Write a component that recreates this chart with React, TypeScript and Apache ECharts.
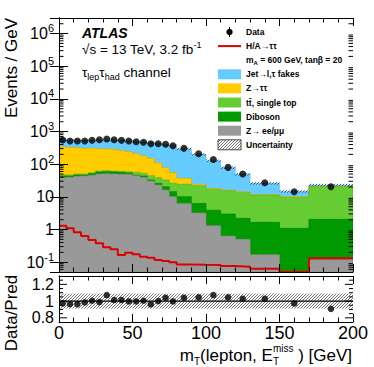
import React, { useEffect, useRef } from 'react';
import * as echarts from 'echarts';

// ---- data ----
const binEdges = [0, 5, 10, 15, 20, 25, 30, 35, 40, 45, 50, 55, 60, 65, 70, 75, 80, 90, 100, 110, 120, 130, 150, 170, 200];
const dataValues = [550, 513, 513, 513, 538, 562, 590, 562, 538, 513, 488, 468, 424, 424, 406, 368, 306, 209, 139, 80, 50, 27, 14.4, 20.4];
const zllValues = [38.6, 39.6, 42.5, 43.5, 45.6, 50, 51.2, 50, 48.9, 48.9, 44.5, 39.6, 30.5, 23.0, 16.2, 10.1, 6.3, 3.2, 1.31, 0.63, 0.5, 0.17, 0.02, 0.12];
const dibosonValues = [4.9, 3.9, 4.1, 3.1, 5.6, 7.6, 7.8, 7.6, 7.4, 4.8, 2.1, 3.9, 2.3, 2.9, 4.3, 4.3, 3.8, 3.1, 2.6, 2.35, 1.7, 1.49, 1.07, 1.93];
const ttbarValues = [3.1, 3.1, 3.4, 3.4, 3.8, 4.2, 4.3, 4.2, 4.1, 5.3, 9.7, 9.0, 11.7, 12.7, 12.3, 11.5, 14.1, 15.7, 13.1, 12.5, 11.5, 9.7, 8.6, 18.5];
const ztautauValues = [297, 281, 270, 256, 251, 237, 229, 223, 205, 183, 154, 130, 107, 72, 45, 29, 12.7, 2.2, 1.2, 0.7, 0.7, 0.5, 0.44, 0.5];
const fakesValues = [221, 212, 210, 219, 229, 251, 258, 265, 265, 273, 280, 284, 292, 313, 317, 314, 257, 176, 109, 62, 35, 14.1, 4.5, 2.0];
const signalValues = [1.31, 1.09, 0.82, 0.63, 0.48, 0.377, 0.284, 0.247, 0.166, 0.195, 0.174, 0.147, 0.137, 0.116, 0.109, 0.099, 0.085, 0.083, 0.082, 0.076, 0.073, 0.063, 0.051, 0.131];
const ratioValues = [0.972, 0.964, 0.964, 0.984, 1.004, 0.988, 1.072, 1.012, 1.012, 0.996, 0.996, 1.004, 0.96, 1.0, 1.04, 0.996, 1.04, 1.045, 1.072, 1.045, 1.028, 1.028, 0.972, 0.907];
const uncertaintyValues = [0.09, 0.09, 0.09, 0.09, 0.09, 0.09, 0.09, 0.09, 0.09, 0.09, 0.09, 0.09, 0.09, 0.09, 0.09, 0.09, 0.09, 0.09, 0.09, 0.09, 0.09, 0.09, 0.09, 0.09];
const ratioTickValues = [0.8, 1, 1.2];
const ratioTickLabels = ['0.8', '1', '1.2'];
const ratioMinorTicks = [0.85, 0.9, 0.95, 1.05, 1.1, 1.15, 1.25];
const logMinorMultipliers = [2, 3, 4, 5, 6, 7, 8, 9];
const logDecades = [0.01, 0.1, 1, 10, 100, 1000, 10000, 100000, 1000000];

const componentNames = ['Z→ ee/μμ', 'Diboson', 'tt̄, single top', 'Z→ττ', 'Jet→l,τ fakes'];
const componentValues = [zllValues, dibosonValues, ttbarValues, ztautauValues, fakesValues];

// ---- styles ----
const FONT = 'Liberation Sans';
const componentColors = ['#999999', '#009900', '#66CC33', '#FFCC00', '#66CCFF'];
const componentStroke = ['#8a8a8a', '#007f00', '#58b02a', '#d8aa00', '#5ab8e8'];
const SIGNAL_COLOR = '#DD0000';
const Y_MIN = 0.05;
const Y_MAX = 3e6;
const R_MIN = 0.75;
const R_MAX = 1.3;

function hatch(x0: number, y0: number, x1: number, y1: number, step: number) {
  const ax = Math.min(x0, x1), bx = Math.max(x0, x1);
  const ay = Math.min(y0, y1), by = Math.max(y0, y1);
  const segs: number[][] = [];
  const start = Math.ceil((ax + ay) / step) * step;
  for (let c = start; c <= bx + by; c += step) {
    const xa = Math.max(ax, c - by);
    const xb = Math.min(bx, c - ay);
    if (xb > xa) segs.push([xa, c - xa, xb, c - xb]);
  }
  return segs;
}

function hatchLines(x0: number, y0: number, x1: number, y1: number, step: number, color: string, width: number) {
  return hatch(x0, y0, x1, y1, step).map((s) => ({
    type: 'line',
    shape: { x1: s[0], y1: s[1], x2: s[2], y2: s[3] },
    style: { stroke: color, lineWidth: width },
  }));
}

function measure(text: string, size: number) {
  const c = document.createElement('canvas').getContext('2d');
  if (!c) return text.length * size * 0.55;
  c.font = `${size}px "${FONT}"`;
  return c.measureText(text).width;
}

export default function App() {
  const ref = useRef<HTMLDivElement>(null);

  useEffect(() => {
    const chart = echarts.init(ref.current as HTMLDivElement, null, { renderer: 'svg' });
    const nb = dataValues.length;

    const cumulative: number[][] = [];
    let run = new Array(nb).fill(0);
    componentValues.forEach((vals) => {
      run = run.map((r: number, i: number) => r + vals[i]);
      cumulative.push(run.slice());
    });
    const totals = cumulative[cumulative.length - 1];
    const centers = dataValues.map((_, i) => (binEdges[i] + binEdges[i + 1]) / 2);

    const logMinorTicks: number[] = [];
    logDecades.forEach((d) => logMinorMultipliers.forEach((m) => {
      const v = d * m;
      if (v > Y_MIN * 1.0001 && v < Y_MAX * 0.9999) logMinorTicks.push(v);
    }));

    const stackSeries = [4, 3, 2, 1, 0].map((k) => ({
      type: 'custom',
      name: componentNames[k],
      xAxisIndex: 0,
      yAxisIndex: 0,
      clip: true,
      silent: true,
      z: 2,
      data: [[binEdges[0], Y_MIN]],
      renderItem: (_params: any, api: any) => {
        const pts: number[][] = [];
        for (let i = 0; i < nb; i++) {
          pts.push(api.coord([binEdges[i], cumulative[k][i]]));
          pts.push(api.coord([binEdges[i + 1], cumulative[k][i]]));
        }
        pts.push(api.coord([binEdges[nb], Y_MIN]));
        pts.push(api.coord([binEdges[0], Y_MIN]));
        return {
          type: 'polygon',
          shape: { points: pts },
          style: { fill: componentColors[k], stroke: componentStroke[k], lineWidth: 0.6 },
        };
      },
    }));

    const tickSeries = (xi: number, yi: number, vals: number[], len: number, labels?: string[]) => ({
      type: 'custom',
      xAxisIndex: xi,
      yAxisIndex: yi,
      silent: true,
      z: 11,
      data: vals.map((v) => [binEdges[0], v]),
      encode: { x: 0, y: 1 },
      renderItem: (params: any, api: any) => {
        const cs = params.coordSys;
        const y = api.coord([binEdges[0], api.value(1)])[1];
        const children: any[] = [
          { type: 'line', shape: { x1: cs.x, y1: y, x2: cs.x + len, y2: y }, style: { stroke: '#000', lineWidth: 1 } },
          { type: 'line', shape: { x1: cs.x + cs.width - len, y1: y, x2: cs.x + cs.width, y2: y }, style: { stroke: '#000', lineWidth: 1 } },
        ];
        if (labels) {
          children.push({
            type: 'text',
            x: cs.x - 5,
            y,
            style: {
              text: labels[params.dataIndex],
              fontSize: 16,
              lineHeight: 14,
              fontFamily: FONT,
              fill: '#000',
              align: 'right',
              verticalAlign: 'middle',
            },
          });
        }
        return { type: 'group', children };
      },
    });

    const bandSeries = (xi: number, yi: number, lows: number[], highs: number[]) => ({
      type: 'custom',
      xAxisIndex: xi,
      yAxisIndex: yi,
      clip: true,
      silent: true,
      z: 3,
      data: lows.map((lo, i) => [binEdges[i], binEdges[i + 1], lo, highs[i]]),
      encode: { x: [0, 1], y: [2, 3] },
      renderItem: (_params: any, api: any) => {
        const a = api.coord([api.value(0), api.value(3)]);
        const b = api.coord([api.value(1), api.value(2)]);
        return { type: 'group', children: hatchLines(a[0], a[1], b[0], b[1], 3, '#333', 0.7) };
      },
    });

    const xAxisBase = {
      type: 'value',
      min: 0,
      max: 200,
      interval: 50,
      z: 10,
      axisLine: { show: true, onZero: false, lineStyle: { color: '#000', width: 1 } },
      axisTick: { show: true, inside: true, length: 8, lineStyle: { color: '#000', width: 1 } },
      minorTick: { show: true, splitNumber: 5, length: 4.5, lineStyle: { color: '#000', width: 1 } },
      splitLine: { show: false },
      minorSplitLine: { show: false },
    };

    const yLabelFormatter = (v: number) => {
      const l = Math.log10(v);
      const e = Math.round(l);
      if (Math.abs(l - e) > 1e-6) return '';
      if (e === 0) return '1';
      if (e === 1) return '10';
      return `10{sup|${e}}`;
    };

    const yLogBase = {
      type: 'log',
      logBase: 10,
      min: Y_MIN,
      max: Y_MAX,
      gridIndex: 0,
      z: 10,
      axisLine: { show: true, lineStyle: { color: '#000', width: 1 } },
      axisTick: { show: true, inside: true, length: 9, lineStyle: { color: '#000', width: 1 } },
      splitLine: { show: false },
    };

    const yRatioBase = {
      type: 'value',
      min: R_MIN,
      max: R_MAX,
      gridIndex: 1,
      z: 10,
      axisLine: { show: true, lineStyle: { color: '#000', width: 1 } },
      axisTick: { show: false },
      axisLabel: { show: false },
      splitLine: { show: false },
    };

    const sub = (size: number, weight = 'normal') => ({ fontSize: size, lineHeight: size, fontFamily: FONT, fontWeight: weight, verticalAlign: 'bottom', fill: '#000' });
    const sup = (size: number, weight = 'normal') => ({ fontSize: size, lineHeight: size, fontFamily: FONT, fontWeight: weight, verticalAlign: 'top', fill: '#000' });

    // x-axis title, built from pieces so that sub/superscripts of E can stack
    const tBase = 17, tSmall = 10, tRight = 352, tY = 355;
    const pieces = [
      { t: 'm', size: tBase, dy: 0 },
      { t: 'T', size: tSmall, dy: 6 },
      { t: '(lepton, E', size: tBase, dy: 0 },
    ];
    const wStackSup = measure('miss', tSmall);
    const tail = ' ) [GeV]';
    const wTail = measure(tail, tBase);
    const wHead = pieces.reduce((s, p) => s + measure(p.t, p.size), 0);
    let cx = tRight - (wHead + wStackSup + wTail);
    const titleGraphics: any[] = [];
    pieces.forEach((p) => {
      titleGraphics.push({
        type: 'text', x: cx, y: tY + p.dy,
        style: { text: p.t, fontSize: p.size, lineHeight: p.size, fontFamily: FONT, fill: '#000', align: 'left', verticalAlign: 'middle' },
      });
      cx += measure(p.t, p.size);
    });
    titleGraphics.push({
      type: 'text', x: cx, y: tY - 6.5,
      style: { text: 'miss', fontSize: tSmall, lineHeight: 10, fontFamily: FONT, fill: '#000', align: 'left', verticalAlign: 'middle' },
    });
    titleGraphics.push({
      type: 'text', x: cx, y: tY + 6.5,
      style: { text: 'T', fontSize: tSmall, lineHeight: 10, fontFamily: FONT, fill: '#000', align: 'left', verticalAlign: 'middle' },
    });
    cx += wStackSup;
    titleGraphics.push({
      type: 'text', x: cx, y: tY,
      style: { text: tail, fontSize: tBase, lineHeight: tBase, fontFamily: FONT, fill: '#000', align: 'left', verticalAlign: 'middle' },
    });

    // legend
    const legendX0 = 218, legendX1 = 241, legendTextX = 246, legendY0 = 32, legendStep = 14.1;
    const legendFont = 8.5;
    const ly = (row: number) => legendY0 + legendStep * row;
    const legendText = (row: number, text: string) => ({
      type: 'text',
      x: legendTextX,
      y: ly(row),
      style: {
        text,
        fontSize: legendFont,
        fontFamily: FONT,
        fontWeight: 'bold',
        lineHeight: 12,
        fill: '#000',
        align: 'left',
        verticalAlign: 'middle',
        rich: { sub: sub(6, 'bold') },
      },
    });
    const legendBox = (row: number, color: string) => ({
      type: 'rect',
      shape: { x: legendX0, y: ly(row) - 5, width: legendX1 - legendX0, height: 10 },
      style: { fill: color },
    });
    const legendOrder = [4, 3, 2, 1, 0];
    const legendGraphics: any[] = [
      { type: 'line', shape: { x1: (legendX0 + legendX1) / 2, y1: ly(0) - 5, x2: (legendX0 + legendX1) / 2, y2: ly(0) + 5 }, style: { stroke: '#000', lineWidth: 1 } },
      { type: 'circle', shape: { cx: (legendX0 + legendX1) / 2, cy: ly(0), r: 3.2 }, style: { fill: '#000' } },
      legendText(0, 'Data'),
      { type: 'line', shape: { x1: legendX0, y1: ly(1), x2: legendX1, y2: ly(1) }, style: { stroke: SIGNAL_COLOR, lineWidth: 2 } },
      legendText(1, 'H/A→ττ'),
      legendText(2, 'm{sub|A} = 600 GeV, tanβ = 20'),
    ];
    legendOrder.forEach((k, j) => {
      legendGraphics.push(legendBox(3 + j, componentColors[k]));
      legendGraphics.push(legendText(3 + j, componentNames[k]));
    });
    legendGraphics.push({
      type: 'group',
      children: [
        { type: 'rect', shape: { x: legendX0, y: ly(8) - 5, width: legendX1 - legendX0, height: 10 }, style: { fill: '#fff', stroke: '#000', lineWidth: 0.7 } },
        ...hatchLines(legendX0, ly(8) - 5, legendX1, ly(8) + 5, 3, '#333', 0.7),
      ],
    });
    legendGraphics.push(legendText(8, 'Uncertainty'));

    const option: any = {
      animation: false,
      textStyle: { fontFamily: FONT },
      grid: [
        { left: 59, top: 18, width: 294, height: 254, show: false },
        { left: 59, top: 276, width: 294, height: 46, show: false },
      ],
      xAxis: [
        { ...xAxisBase, gridIndex: 0, position: 'bottom', axisLabel: { show: false } },
        { ...xAxisBase, gridIndex: 0, position: 'top', axisLabel: { show: false } },
        {
          ...xAxisBase,
          gridIndex: 1,
          position: 'bottom',
          axisLabel: { show: true, fontSize: 18, lineHeight: 16, fontFamily: FONT, color: '#000', margin: 3 },
        },
        { ...xAxisBase, gridIndex: 1, position: 'top', axisLabel: { show: false } },
      ],
      yAxis: [
        {
          ...yLogBase,
          position: 'left',
          axisLabel: {
            show: true,
            fontSize: 16,
            lineHeight: 22,
            fontFamily: FONT,
            color: '#000',
            margin: 5,
            showMinLabel: true,
            showMaxLabel: true,
            formatter: yLabelFormatter,
            rich: { sup: { fontSize: 11, lineHeight: 11, fontFamily: FONT, color: '#000', verticalAlign: 'top' } },
          },
        },
        { ...yLogBase, position: 'right', axisLabel: { show: false } },
        { ...yRatioBase, position: 'left' },
        { ...yRatioBase, position: 'right' },
      ],
      series: [
        ...stackSeries,
        {
          type: 'line',
          name: 'H/A→ττ',
          xAxisIndex: 0,
          yAxisIndex: 0,
          step: 'end',
          showSymbol: false,
          clip: true,
          z: 4,
          lineStyle: { color: SIGNAL_COLOR, width: 2 },
          data: [...signalValues.map((v, i) => [binEdges[i], v]), [binEdges[nb], signalValues[nb - 1]]],
        },
        bandSeries(0, 0, totals.map((t, i) => t * (1 - uncertaintyValues[i])), totals.map((t, i) => t * (1 + uncertaintyValues[i]))),
        {
          type: 'scatter',
          name: 'Data',
          xAxisIndex: 0,
          yAxisIndex: 0,
          symbol: 'circle',
          symbolSize: 7,
          z: 5,
          itemStyle: { color: '#000' },
          data: dataValues.map((v, i) => [centers[i], v]),
        },
        tickSeries(0, 0, logMinorTicks, 4.5),
        bandSeries(2, 2, uncertaintyValues.map((u) => 1 - u), uncertaintyValues.map((u) => 1 + u)),
        {
          type: 'line',
          xAxisIndex: 2,
          yAxisIndex: 2,
          showSymbol: false,
          z: 4,
          lineStyle: { color: '#000', width: 1.2 },
          data: [[binEdges[0], 1], [binEdges[nb], 1]],
        },
        {
          type: 'scatter',
          xAxisIndex: 2,
          yAxisIndex: 2,
          symbol: 'circle',
          symbolSize: 6.5,
          z: 5,
          itemStyle: { color: '#000' },
          data: ratioValues.map((v, i) => [centers[i], v]),
        },
        tickSeries(2, 2, ratioTickValues, 8, ratioTickLabels),
        tickSeries(2, 2, ratioMinorTicks, 4),
      ],
      graphic: [
        {
          type: 'text', x: 11, y: 68, rotation: Math.PI / 2,
          style: { text: 'Events / GeV', fontSize: 17, fontFamily: FONT, fill: '#000', align: 'center', verticalAlign: 'middle' },
        },
        {
          type: 'text', x: 11, y: 313, rotation: Math.PI / 2,
          style: { text: 'Data/Pred', fontSize: 17, fontFamily: FONT, fill: '#000', align: 'center', verticalAlign: 'middle' },
        },
        ...titleGraphics,
        {
          type: 'text', x: 82, y: 33,
          style: { text: 'ATLAS', fontSize: 14, fontWeight: 'bold', fontStyle: 'italic', fontFamily: FONT, fill: '#000', align: 'left', verticalAlign: 'middle' },
        },
        {
          type: 'text', x: 82, y: 49,
          style: {
            text: '√s = 13 TeV, 3.2 fb{sup|-1}', fontSize: 13.5, lineHeight: 18, fontFamily: FONT, fill: '#000', align: 'left', verticalAlign: 'middle',
            rich: { sup: sup(9) },
          },
        },
        {
          type: 'text', x: 82, y: 72,
          style: {
            text: 'τ{sub|lep}τ{sub|had} channel', fontSize: 13.5, lineHeight: 18, fontFamily: FONT, fill: '#000', align: 'left', verticalAlign: 'middle',
            rich: { sub: sub(9) },
          },
        },
        ...legendGraphics,
      ],
    };

    chart.setOption(option);
    return () => chart.dispose();
  }, []);

  return <div ref={ref} style={{ position: 'absolute', left: 0, top: 0, width: 374, height: 367 }} />;
}
